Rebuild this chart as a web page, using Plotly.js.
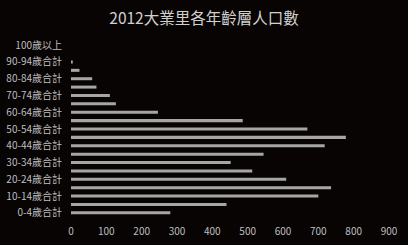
<!DOCTYPE html>
<html>
<head>
<meta charset="utf-8">
<script src="https://cdn.plot.ly/plotly-3.0.1.min.js"></script>
<style>html,body{margin:0;padding:0;background:#080404;}#chart{width:408px;height:245px;}</style>
</head>
<body>
<div id="chart"></div>
<script>
const categories = ["0-4歲合計","5-9歲合計","10-14歲合計","15-19歲合計","20-24歲合計","25-29歲合計","30-34歲合計","35-39歲合計","40-44歲合計","45-49歲合計","50-54歲合計","55-59歲合計","60-64歲合計","65-69歲合計","70-74歲合計","75-79歲合計","80-84歲合計","85-89歲合計","90-94歲合計","95-99歲合計","100歲以上"];
const population = [281,440,700,736,609,513,452,545,718,778,669,486,246,127,110,72,60,24,5,0,0];
const shownLabels = ["0-4歲合計","10-14歲合計","20-24歲合計","30-34歲合計","40-44歲合計","50-54歲合計","60-64歲合計","70-74歲合計","80-84歲合計","90-94歲合計","100歲以上"];
const xTicks = [0,100,200,300,400,500,600,700,800,900];

const font = "'Noto Sans CJK TC', 'Noto Sans', sans-serif";
Plotly.newPlot('chart', [{
  type: 'bar',
  orientation: 'h',
  y: categories,
  x: population,
  marker: {color: '#a6a6a6'},
  hoverinfo: 'none'
}], {
  width: 408, height: 245,
  paper_bgcolor: '#080404', plot_bgcolor: '#080404',
  margin: {l: 71, r: 19, t: 41, b: 28},
  bargap: 0.64,
  showlegend: false,
  title: {text: '2012大業里各年齡層人口數', x: 0.5, xanchor: 'center', y: 0.925, yanchor: 'middle', font: {family: font, size: 15.5, color: '#d0d0d0'}},
  xaxis: {range: [0, 900], tickvals: xTicks, showgrid: false, zeroline: false, showline: false, ticks: '',
          tickfont: {family: font, size: 10, color: '#bfbfbf'}, ticklabelstandoff: 7},
  yaxis: {type: 'category', categoryorder: 'array', categoryarray: categories, tickmode: 'array', tickvals: shownLabels, ticktext: shownLabels,
          showgrid: false, zeroline: false, showline: false, ticks: '', range: [-0.5, 20.5],
          tickfont: {family: font, size: 10, color: '#bfbfbf'}, ticklabelstandoff: 8}
}, {staticPlot: true});
</script>
</body>
</html>
